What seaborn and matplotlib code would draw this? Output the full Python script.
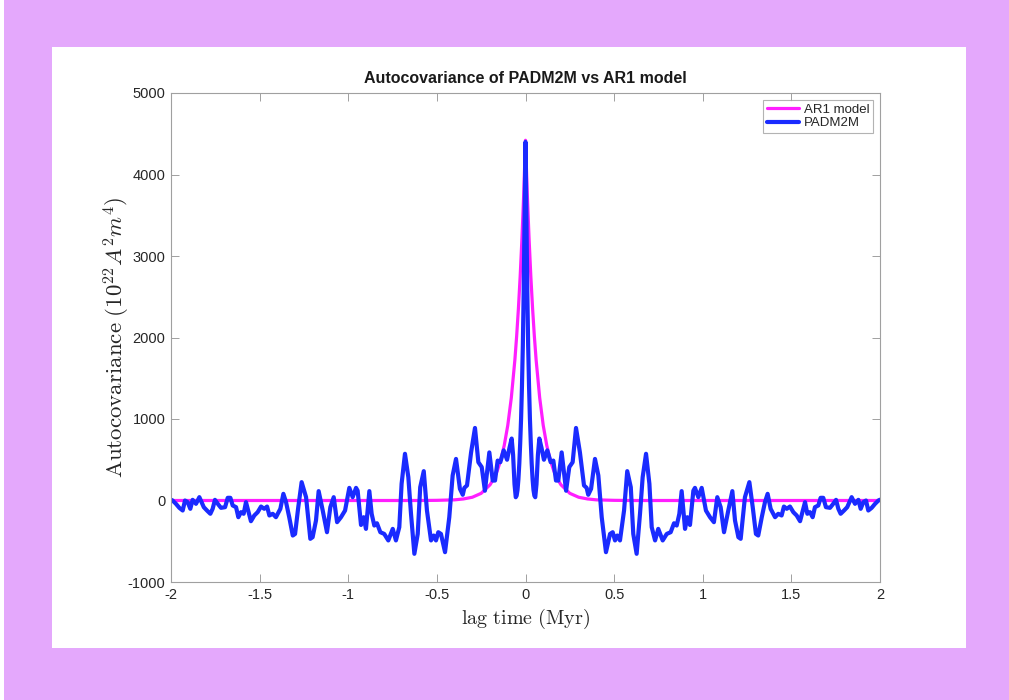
import numpy as np
import pandas as pd
import matplotlib
matplotlib.use("Agg")
import matplotlib.pyplot as plt
from matplotlib.patches import Rectangle
import seaborn as sns

# Positive-lag half of the autocovariance (Myr, 10^22 A^2 m^4); the function is even in lag.
lag_pos = [0.000, 0.005, 0.010, 0.015, 0.020, 0.025, 0.030, 0.035, 0.040, 0.045,
           0.050, 0.055, 0.062, 0.070, 0.078, 0.090, 0.104, 0.123, 0.142, 0.157,
           0.172, 0.185, 0.204, 0.229, 0.247, 0.266, 0.285, 0.307, 0.330, 0.345,
           0.354, 0.370, 0.392, 0.411, 0.430, 0.454, 0.477, 0.492, 0.505, 0.518,
           0.533, 0.556, 0.574, 0.594, 0.608, 0.627, 0.646, 0.661, 0.680, 0.699,
           0.712, 0.731, 0.749, 0.774, 0.797, 0.819, 0.838, 0.853, 0.868, 0.881,
           0.900, 0.913, 0.928, 0.947, 0.956, 0.975, 0.994, 1.018, 1.041, 1.063,
           1.082, 1.101, 1.120, 1.144, 1.167, 1.182, 1.201, 1.214, 1.238, 1.263,
           1.282, 1.300, 1.313, 1.333, 1.351, 1.366, 1.383, 1.408, 1.426, 1.445,
           1.458, 1.474, 1.492, 1.511, 1.530, 1.549, 1.577, 1.590, 1.605, 1.620,
           1.633, 1.652, 1.665, 1.680, 1.695, 1.718, 1.733, 1.752, 1.765, 1.778,
           1.797, 1.815, 1.840, 1.859, 1.878, 1.891, 1.906, 1.921, 1.934, 1.953,
           1.972, 1.991, 2.000]
padm2m_pos = [4400, 3500, 2600, 1900, 1400, 1000, 700, 450, 260, 130,
              60, 40, 200, 560, 760, 650, 500, 615, 470, 490,
              245, 245, 590, 120, 410, 470, 890, 590, 185, 155,
              70, 143, 510, 307, -205, -634, -410, -389, -490, -430,
              -490, -123, 360, 163, -410, -654, -163, 286, 573, 205,
              -327, -490, -348, -490, -410, -389, -279, -307, -163, 115,
              -348, -205, -300, 120, 155, 41, 155, -123, -205, -266,
              41, -82, -389, -123, 115, -245, -450, -470, 41, 225,
              -82, -410, -430, -205, -20, 82, -102, -205, -163, -184,
              -74, -102, -74, -143, -184, -254, -20, -163, -143, -205,
              -82, -61, 33, 33, -82, -90, -49, 8, -102, -163,
              -123, -82, 41, -41, 8, -102, -20, 0, -123, -90,
              -41, 0, 10]

# AR1 model autocovariance, positive-lag half
ar1_lag_pos = [0.00, 0.01, 0.02, 0.03, 0.04, 0.05, 0.06, 0.08, 0.10, 0.12,
               0.14, 0.16, 0.18, 0.20, 0.25, 0.30, 0.35, 0.40, 0.50, 0.60, 2.00]
ar1_pos = [4420, 3763, 3219, 2753, 2355, 2014, 1723, 1261, 922, 675,
           494, 361, 264, 193, 88, 40, 19, 8, 2, 0, 0]

x_ticks = [-2, -1.5, -1, -0.5, 0, 0.5, 1, 1.5, 2]
x_tick_labels = ["-2", "-1.5", "-1", "-0.5", "0", "0.5", "1", "1.5", "2"]
y_ticks = [-1000, 0, 1000, 2000, 3000, 4000, 5000]
y_tick_labels = ["-1000", "0", "1000", "2000", "3000", "4000", "5000"]


def mirror(lags, vals):
    lags = np.asarray(lags, float)
    vals = np.asarray(vals, float)
    return (np.concatenate([-lags[::-1], lags[1:]]),
            np.concatenate([vals[::-1], vals[1:]]))


lag_all, padm_all = mirror(lag_pos, padm2m_pos)
ar_lag_all, ar_all = mirror(ar1_lag_pos, ar1_pos)
df_padm = pd.DataFrame({"lag": lag_all, "acov": padm_all})
df_ar = pd.DataFrame({"lag": ar_lag_all, "acov": ar_all})

sns.set_theme(style="white")
plt.rcParams["font.family"] = ["Liberation Sans", "DejaVu Sans"]
plt.rcParams["mathtext.fontset"] = "cm"
plt.rcParams["axes.unicode_minus"] = False

fig = plt.figure(figsize=(10.09, 7.0), dpi=100, facecolor="#E4A8FC")
# white panel behind the axes
fig.patches.append(Rectangle((52 / 1009, 1 - 648 / 700), (966 - 52) / 1009, (648 - 47) / 700,
                             transform=fig.transFigure, facecolor="white",
                             edgecolor="none", zorder=-5))
fig.patches.append(Rectangle((0, 0), 4 / 1009, 1, transform=fig.transFigure,
                             facecolor="white", edgecolor="none", zorder=-5))

ax = fig.add_axes([171 / 1009, 1 - 582 / 700, (880 - 171) / 1009, (582 - 93) / 700])
ax.set_facecolor("white")

sns.lineplot(data=df_ar, x="lag", y="acov", ax=ax, color="#FF1EFF", linewidth=2.3,
             label="AR1 model", estimator=None, sort=False)
sns.lineplot(data=df_padm, x="lag", y="acov", ax=ax, color="#1A2BFF", linewidth=3.0,
             label="PADM2M", estimator=None, sort=False)

ax.set_xlim(-2, 2)
ax.set_ylim(-1000, 5000)
ax.set_xticks(x_ticks)
ax.set_xticklabels(x_tick_labels)
ax.set_yticks(y_ticks)
ax.set_yticklabels(y_tick_labels)

for s in ax.spines.values():
    s.set_color("#a0a0a0")
    s.set_linewidth(0.8)
ax.tick_params(direction="in", length=6, width=0.7, color="#a0a0a0",
               top=True, right=True, labelsize=10.5, labelcolor="#262626",
               bottom=True, left=True, pad=4)

ax.set_title("Autocovariance of PADM2M vs AR1 model", fontsize=11.5, fontweight="bold",
             color="#1a1a1a", pad=7)
ax.set_xlabel(r"$\mathrm{lag\ time\ (Myr)}$", fontsize=14.5, color="#262626", labelpad=4)
ax.set_ylabel(r"$\mathrm{Autocovariance}\ (10^{22}A^2m^4)$", fontsize=16.5,
              color="#262626", labelpad=-3)

leg = ax.legend(loc="upper right", fontsize=9.5, frameon=True, fancybox=False,
                borderaxespad=0.5, handlelength=2.4, handletextpad=0.4,
                borderpad=0.3, labelspacing=0.1)
leg.get_frame().set_edgecolor("#a0a0a0")
leg.get_frame().set_linewidth(0.8)

fig.savefig("out.png", dpi=100, facecolor=fig.get_facecolor())
